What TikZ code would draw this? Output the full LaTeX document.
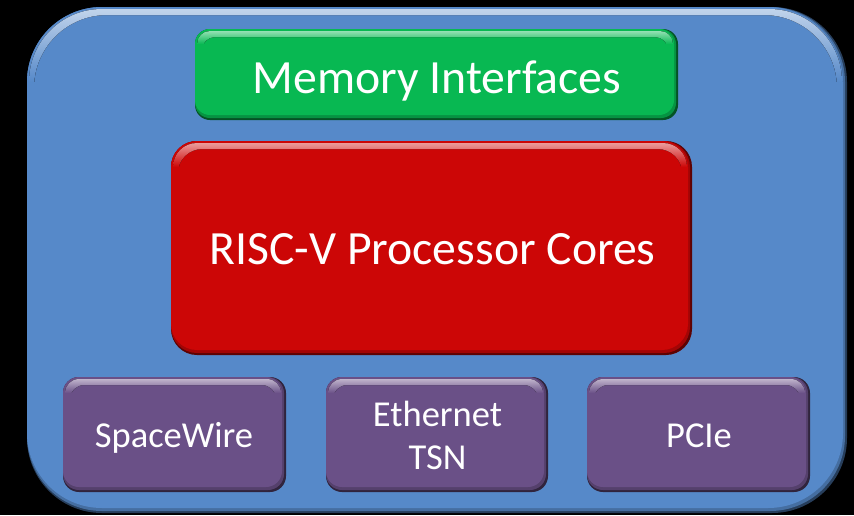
\documentclass[tikz,border=0pt]{standalone}
\usepackage{fontspec}
\setmainfont{Carlito}
\definecolor{boardblue}{HTML}{5689C9}
\definecolor{memgreen}{HTML}{08B852}
\definecolor{corered}{HTML}{CC0606}
\definecolor{ioviolet}{HTML}{6A5087}

% Bevelled rounded box: #1,#2 top-left, #3,#4 bottom-right, #5 radius, #6 colour
\newcommand\bevelbox[6]{%
  \fill[#6!45!black, rounded corners=#5] (#1,#2) rectangle (#3,#4);
  \fill[#6!80!black, rounded corners=#5] (#1,#2) rectangle ({#3-2},{#4-2});
  \fill[#6, rounded corners=#5] (#1,#2) rectangle ({#3-4},{#4-5});
  \begin{scope}[even odd rule, rounded corners=#5-2]
    \clip
      ({#1+2},{#2+2}) rectangle ({#3-5},{#4-6})
      ({#1+7},{#2+8}) rectangle ({#3-10},{#4-12});
    \fill[top color=#6!35!white, bottom color=#6, sharp corners]
      ({#1},{#2}) rectangle ({#3},{#2+#5});
  \end{scope}
}

\tikzset{
  lbl/.style={text=white, inner sep=0pt, anchor=base},
  biglbl/.style={lbl, font=\fontsize{47.7}{57}\selectfont},
  iolbl/.style={lbl, font=\fontsize{36.5}{43}\selectfont},
}

\begin{document}
\begin{tikzpicture}[x=1pt, y=-1pt]
  \fill[black] (0,0) rectangle (854,515);
  \useasboundingbox (0,0) rectangle (854,515);

  % carrier board
  \bevelbox{27}{7}{847}{513}{75}{boardblue}

  % blocks
  \bevelbox{195}{29}{678}{120}{15}{memgreen}
  \bevelbox{171}{141}{692}{355}{26}{corered}
  \bevelbox{63}{377}{286}{492}{16}{ioviolet}
  \bevelbox{326}{377}{548}{492}{16}{ioviolet}
  \bevelbox{587}{377}{810}{492}{16}{ioviolet}

  % labels
  \node[biglbl] (mem)  at (437,93)  {Memory Interfaces};
  \node[biglbl] (cpu)  at (432.5,264) {RISC-V Processor Cores};
  \node[iolbl]  (spw)  at (174,447) {SpaceWire};
  \node[iolbl, anchor=center, align=center] (eth) at (437.5,435.5) {Ethernet\\TSN};
  \node[iolbl]  (pcie) at (699,447) {PCIe};
\end{tikzpicture}
\end{document}
